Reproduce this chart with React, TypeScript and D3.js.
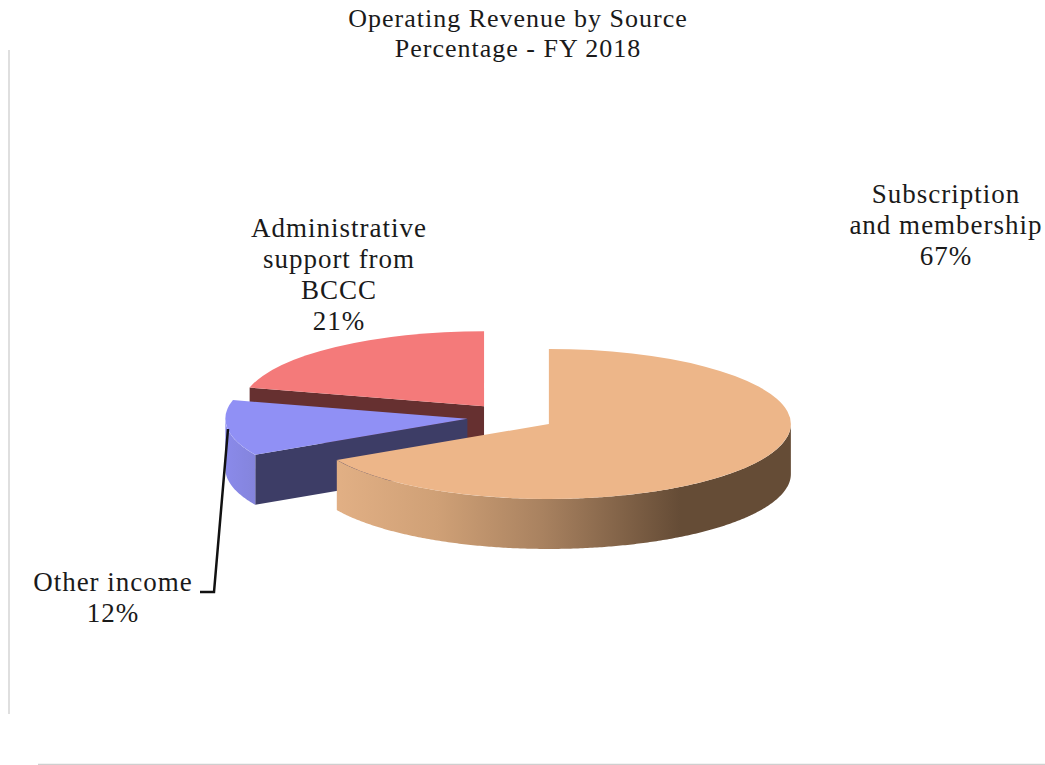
import React from "react";
import * as d3 from "d3";

const titleLines = ["Operating Revenue by Source", "Percentage - FY 2018"];
const categories = ["Subscription and membership", "Other income", "Administrative support from BCCC"];
const shares = [67, 12, 21];
const labelLines = [
  ["Subscription", "and membership", "67%"],
  ["Other income", "12%"],
  ["Administrative", "support from", "BCCC", "21%"],
];
const topColors = ["#edb689", "#9090f5", "#f47a7a"];
const cutColors = ["#654c36", "#3d3d66", "#663030"];
const wallColors = ["url(#wallOrange)", "url(#wallBlue)", "#8a4a4a"];

const WIDTH = 1045;
const HEIGHT = 765;
const CX = 511;
const CY = 417;
const RX = 242;
const TILT = 0.31;
const DEPTH = 50;
const EXPLODE = 44;

const labelAnchors = [
  { x: 946, y: 203 },
  { x: 113, y: 591 },
  { x: 339, y: 237 },
];

const pie = d3.pie<number>().sort(null).startAngle(0).endAngle(2 * Math.PI);
const slices = pie(shares);
const arc = d3.arc<d3.PieArcDatum<number>>().innerRadius(0).outerRadius(RX);
const line = d3.line();

function centre(a0: number, a1: number): [number, number] {
  const mid = (a0 + a1) / 2;
  return [CX + EXPLODE * Math.sin(mid), CY - EXPLODE * TILT * Math.cos(mid)];
}

function rim(c: [number, number], a: number, drop = 0): [number, number] {
  return [c[0] + RX * Math.sin(a), c[1] - RX * TILT * Math.cos(a) + drop];
}

// Outer wall of a slice: only the part of its arc on the viewer's side is visible.
function wallPath(c: [number, number], a0: number, a1: number): string | null {
  const from = Math.max(a0, Math.PI / 2);
  const to = Math.min(a1, (3 * Math.PI) / 2);
  if (to <= from) return null;
  const angles = d3.range(from, to, 0.01).concat(to);
  const upper = angles.map((a) => rim(c, a));
  const lower = angles.map((a) => rim(c, a, DEPTH)).reverse();
  return line([...upper, ...lower]) + "Z";
}

// Radial cut face that is turned towards the viewer.
function cutPath(c: [number, number], a: number): string {
  const r = rim(c, a);
  return (
    line([
      c,
      r,
      [r[0], r[1] + DEPTH],
      [c[0], c[1] + DEPTH],
    ]) + "Z"
  );
}

export default function App() {
  const serif = "'Liberation Serif', serif";
  return (
    <svg
      width={WIDTH}
      height={HEIGHT}
      viewBox={`0 0 ${WIDTH} ${HEIGHT}`}
      style={{ position: "absolute", left: 0, top: 0, display: "block", background: "#fff" }}
      fontFamily={serif}
      role="img"
      aria-label={categories.join(", ")}
    >
      <defs>
        <linearGradient id="wallOrange" gradientUnits="userSpaceOnUse" x1="334" x2="680" y1="0" y2="0">
          <stop offset="0" stopColor="#e2b085" />
          <stop offset="0.3" stopColor="#cfa076" />
          <stop offset="0.6" stopColor="#a98260" />
          <stop offset="1" stopColor="#654c36" />
        </linearGradient>
        <linearGradient id="wallBlue" gradientUnits="userSpaceOnUse" x1="226" x2="256" y1="0" y2="0">
          <stop offset="0" stopColor="#8a8aea" />
          <stop offset="1" stopColor="#8484dc" />
        </linearGradient>
      </defs>

      <line x1={9} y1={50} x2={9} y2={714} stroke="#d4d4d4" strokeWidth={1.5} />
      <line x1={38} y1={764.5} x2={1045} y2={764.5} stroke="#cfcfcf" strokeWidth={1.5} />

      {titleLines.map((t, i) => (
        <text key={t} x={518} y={27 + i * 30} textAnchor="middle" fontSize={26} letterSpacing={1} fill="#1a1a1a">
          {t}
        </text>
      ))}

      {/* Back to front: administrative support, other income, subscription */}
      {[2, 1, 0].map((i) => {
        const s = slices[i];
        const c = centre(s.startAngle, s.endAngle);
        const wall = wallPath(c, s.startAngle, s.endAngle);
        return (
          <g key={categories[i]}>
            {i > 0 && <path d={cutPath(c, s.startAngle)} fill={cutColors[i]} />}
            {wall && <path d={wall} fill={wallColors[i]} />}
            <path
              d={arc(s) ?? ""}
              transform={`translate(${c[0]},${c[1]}) scale(1,${TILT})`}
              fill={topColors[i]}
            />
          </g>
        );
      })}

      <path d="M228,429 L214,592 L200,592" fill="none" stroke="#111" strokeWidth={2.5} />

      {labelLines.map((lines, i) =>
        lines.map((t, j) => (
          <text
            key={t}
            x={labelAnchors[i].x}
            y={labelAnchors[i].y + j * 31}
            textAnchor="middle"
            fontSize={27}
            fill="#1a1a1a"
            letterSpacing={1}
          >
            {t}
          </text>
        )),
      )}
    </svg>
  );
}
